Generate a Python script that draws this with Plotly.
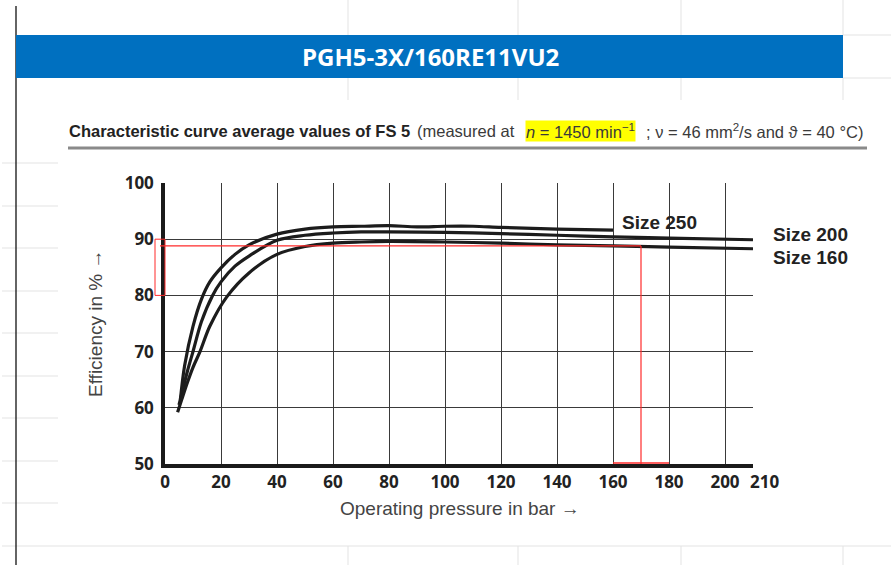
import plotly.graph_objects as go

# ---------------- data ----------------
pressure_250 = [5.5, 7, 10, 13, 16, 20, 25, 30, 40, 50, 60, 70, 80, 90, 100, 110, 120, 140, 160]
eff_250 = [61.5, 67.5, 74.5, 79.3, 82.4, 84.9, 87.3, 89.0, 90.9, 91.8, 92.2, 92.3, 92.4, 92.2, 92.3, 92.3, 92.1, 91.8, 91.6]

pressure_200 = [5, 6, 8, 10, 13, 17, 20, 25, 30, 40, 50, 60, 70, 80, 100, 120, 140, 160, 180, 210]
eff_200 = [60.5, 62.5, 66.5, 70.0, 75.3, 80.0, 82.4, 85.2, 87.0, 89.8, 90.7, 91.1, 91.3, 91.3, 91.2, 91.0, 90.7, 90.4, 90.2, 89.9]

pressure_160 = [4.5, 6, 8, 10, 12.5, 16, 22, 30, 40, 50, 60, 70, 80, 100, 120, 140, 160, 180, 210]
eff_160 = [59.2, 61.5, 64.5, 67.2, 70.0, 74.5, 79.7, 84.0, 87.3, 88.7, 89.3, 89.5, 89.6, 89.5, 89.3, 89.0, 88.8, 88.6, 88.3]

series_names = ["Size 250", "Size 200", "Size 160"]
label_pos = [(162.5, 93.0), (216.5, 90.9), (216.5, 86.8)]

x_ticks = [0, 20, 40, 60, 80, 100, 120, 140, 160, 180, 200, 210]
x_tick_labels = ["0", "20", "40", "60", "80", "100", "120", "140", "160", "180", "200", "210"]
y_ticks = [50, 60, 70, 80, 90, 100]

marker_pressure = 170
marker_eff = 88.8

title_text = "PGH5-3X/160RE11VU2"
x_title = "Operating pressure in bar →"
y_title = "Efficiency in % →"

# ---------------- geometry helpers ----------------
W, H = 891, 565
L, R, T, B = 165, 753, 183, 464
XMIN, XMAX, YMIN, YMAX = 0, 210, 50, 100


def px(xp):
    return (xp - L) / (R - L)


def py(yp):
    return (B - yp) / (B - T)


def dx(v):
    return (v - XMIN) / (XMAX - XMIN)


def dy(v):
    return (v - YMIN) / (YMAX - YMIN)


fig = go.Figure()
for xs, ys, nm in [(pressure_250, eff_250, series_names[0]),
                   (pressure_200, eff_200, series_names[1]),
                   (pressure_160, eff_160, series_names[2])]:
    fig.add_trace(go.Scatter(x=xs, y=ys, mode="lines", name=nm,
                             line=dict(color="#1c1c1c", width=3.2, shape="spline", smoothing=0.9),
                             showlegend=False, hoverinfo="skip"))

shapes = []
grid_c = "#e3e3e3"
# spreadsheet background lines
for yy in [163, 206, 248, 291, 333, 376, 418, 461, 503]:
    shapes.append(dict(type="line", xref="paper", yref="paper", x0=px(2), x1=px(58), y0=py(yy), y1=py(yy),
                       line=dict(color=grid_c, width=1), layer="below"))
shapes.append(dict(type="line", xref="paper", yref="paper", x0=px(2), x1=px(891), y0=py(546), y1=py(546),
                   line=dict(color=grid_c, width=1), layer="below"))
for xx in [348, 518, 681, 843]:
    shapes.append(dict(type="line", xref="paper", yref="paper", x0=px(xx), x1=px(xx), y0=py(0), y1=py(35),
                       line=dict(color=grid_c, width=1), layer="below"))
    shapes.append(dict(type="line", xref="paper", yref="paper", x0=px(xx), x1=px(xx), y0=py(78), y1=py(100),
                       line=dict(color=grid_c, width=1), layer="below"))
    shapes.append(dict(type="line", xref="paper", yref="paper", x0=px(xx), x1=px(xx), y0=py(546), y1=py(565),
                       line=dict(color=grid_c, width=1), layer="below"))
for yy in [35, 78]:
    shapes.append(dict(type="line", xref="paper", yref="paper", x0=px(843), x1=px(891), y0=py(yy), y1=py(yy),
                       line=dict(color=grid_c, width=1), layer="below"))
# dark left border of sheet
shapes.append(dict(type="line", xref="paper", yref="paper", x0=px(16), x1=px(16), y0=py(6), y1=py(565),
                   line=dict(color="#111111", width=1.3)))
# blue title bar
shapes.append(dict(type="rect", xref="paper", yref="paper", x0=px(16), x1=px(843), y0=py(35), y1=py(78),
                   fillcolor="#0070C0", line=dict(width=0)))
# subtitle underline
shapes.append(dict(type="line", xref="paper", yref="paper", x0=px(68), x1=px(867), y0=py(148), y1=py(148),
                   line=dict(color="#8a8a8a", width=3)))
# red markings
red = "#ff2a2a"
shapes.append(dict(type="rect", xref="paper", yref="paper", x0=px(155), x1=px(165),
                   y0=dy(80), y1=dy(90), line=dict(color=red, width=1)))
shapes.append(dict(type="line", xref="paper", yref="paper", x0=px(160), x1=dx(marker_pressure),
                   y0=dy(marker_eff), y1=dy(marker_eff), line=dict(color=red, width=1.2)))
shapes.append(dict(type="line", xref="x", yref="y", x0=marker_pressure, x1=marker_pressure,
                   y0=YMIN, y1=marker_eff, line=dict(color=red, width=1.2)))
shapes.append(dict(type="line", xref="x", yref="y", x0=160, x1=180, y0=50.2, y1=50.2,
                   line=dict(color=red, width=1.5)))

tick_font = dict(family="Open Sans", size=17, color="#222", weight="bold")

ann = []
ann.append(dict(xref="paper", yref="paper", x=px(430), y=py(57), text="<b>" + title_text + "</b>",
                showarrow=False, font=dict(family="Open Sans", size=24, color="white"),
                xanchor="center", yanchor="middle"))
sub_font = "Liberation Sans, Arial"
sub_size = 16.5
ann.append(dict(xref="paper", yref="paper", x=px(67), y=py(131),
                text="<b>Characteristic curve average values of FS 5</b>",
                showarrow=False, font=dict(family=sub_font, size=sub_size, color="#222"),
                xanchor="left", yanchor="middle"))
ann.append(dict(xref="paper", yref="paper", x=px(415), y=py(131), text="(measured at",
                showarrow=False, font=dict(family=sub_font, size=sub_size, color="#3a3a3a"),
                xanchor="left", yanchor="middle"))
ann.append(dict(xref="paper", yref="paper", x=px(525), y=py(131), text="<i>n</i> = 1450 min<sup>−1</sup>",
                showarrow=False, font=dict(family=sub_font, size=sub_size, color="#3a3a3a"),
                bgcolor="#ffff00", borderpad=0, xanchor="left", yanchor="middle"))
ann.append(dict(xref="paper", yref="paper", x=px(644), y=py(131),
                text="; ν = 46 mm<sup>2</sup>/s and ϑ = 40 °C)",
                showarrow=False, font=dict(family=sub_font, size=sub_size, color="#3a3a3a"),
                xanchor="left", yanchor="middle"))
# axis titles
ann.append(dict(xref="paper", yref="paper", x=px(95), y=py(324), text=y_title, textangle=-90,
                showarrow=False, font=dict(family="Liberation Sans", size=19, color="#444"),
                xanchor="center", yanchor="middle"))
ann.append(dict(xref="paper", yref="paper", x=px(460), y=py(508), text=x_title,
                showarrow=False, font=dict(family="Liberation Sans", size=19, color="#444"),
                xanchor="center", yanchor="middle"))
# last x tick label, nudged right as in the original drawing
ann.append(dict(xref="paper", yref="paper", x=px(764), y=py(481), text=x_tick_labels[-1],
                showarrow=False, font=tick_font, xanchor="center", yanchor="middle"))
# series labels
for nm, (lx, ly) in zip(series_names, label_pos):
    ann.append(dict(xref="paper", yref="paper", x=dx(lx), y=dy(ly), text="<b>" + nm + "</b>", showarrow=False,
                    font=dict(family="Liberation Sans", size=19, color="#222"),
                    xanchor="left", yanchor="middle"))

fig.update_layout(
    width=W, height=H, autosize=False,
    margin=dict(l=L, r=W - R, t=T, b=H - B, pad=0),
    paper_bgcolor="white", plot_bgcolor="white",
    shapes=shapes, annotations=ann,
    xaxis=dict(range=[XMIN, XMAX], tickmode="array", tickvals=x_ticks,
               ticktext=x_tick_labels[:-1] + [""],
               showgrid=True, gridcolor="#3a3a3a", gridwidth=1.3, zeroline=False, tickangle=0,
               showline=True, linecolor="#1a1a1a", linewidth=3.5, ticks="", tickfont=tick_font,
               ticklabelstandoff=0, fixedrange=True),
    yaxis=dict(range=[YMIN, YMAX], tickmode="array", tickvals=y_ticks, ticktext=[str(v) for v in y_ticks],
               showgrid=True, gridcolor="#3a3a3a", gridwidth=1.3, zeroline=False,
               showline=True, linecolor="#1a1a1a", linewidth=3.5, ticks="", tickfont=tick_font,
               ticklabelstandoff=4, fixedrange=True),
)

fig.write_html("out.html", config={"displayModeBar": False},
               post_script="document.body.style.margin='0px';")
